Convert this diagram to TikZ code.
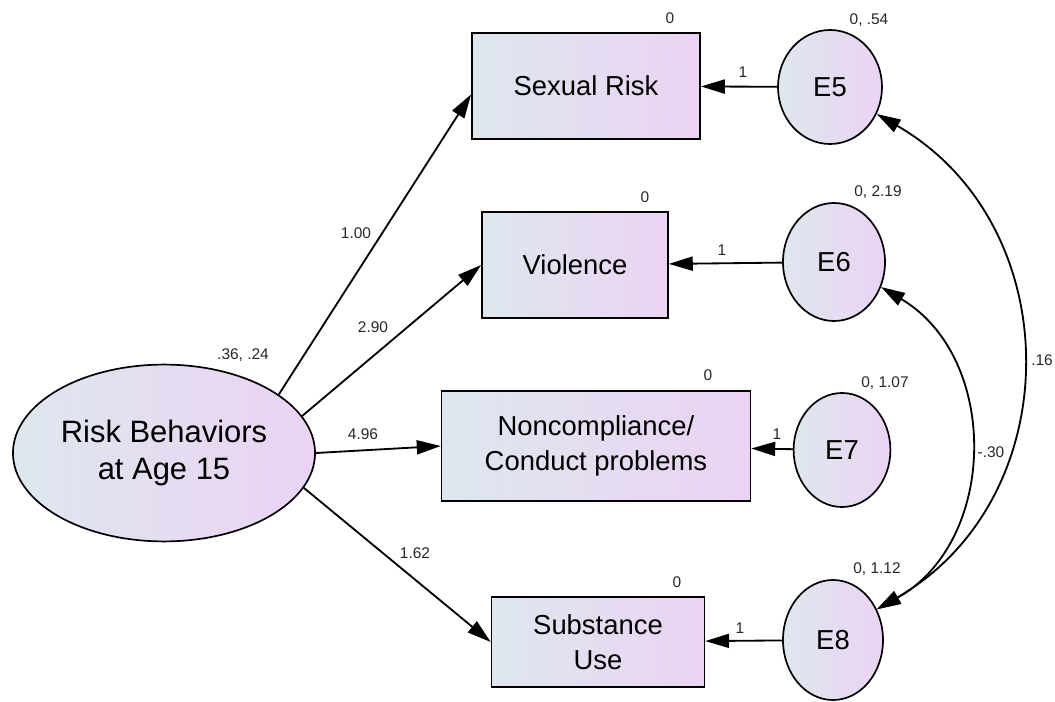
\documentclass[tikz,border=0pt]{standalone}
\usepackage{fontspec}
\setmainfont{Liberation Sans}
\usetikzlibrary{arrows.meta,shapes.geometric}

\definecolor{boxleft}{RGB}{222,231,238}
\definecolor{boxright}{RGB}{235,211,243}

\begin{document}
\begin{tikzpicture}[x=0.025cm, y=-0.025cm,
		obs/.style={draw, line width=1.2pt, left color=boxleft, right color=boxright, align=center, inner sep=0, font=\fontsize{19.5}{25}\selectfont},
		lat/.style={obs, ellipse},
		est/.style={font=\fontsize{11}{13}\selectfont, text=black!85},
		path/.style={-{Triangle[length=17pt,width=10pt]}, line width=1.3pt},
		cov/.style={{Triangle[length=17pt,width=10pt]}-{Triangle[length=17pt,width=10pt]}, line width=1.3pt}]
		\useasboundingbox (0,0) rectangle (1055,702);
		
		% latent factor
		\node[lat, minimum width=7.55cm, minimum height=4.42cm, font=\fontsize{22}{27}\selectfont] (risk) at (164,453) {Risk Behaviors\\at Age 15};
		
		% indicators
		\node[obs, minimum width=5.7cm, minimum height=2.65cm] (sex) at (586,86) {Sexual Risk};
		\node[obs, minimum width=4.65cm, minimum height=2.65cm] (viol) at (575,265) {Violence};
		\node[obs, minimum width=7.72cm, minimum height=2.75cm] (nonc) at (596,446) {Noncompliance/\\Conduct problems};
		\node[obs, minimum width=5.32cm, minimum height=2.25cm] (subst) at (598,642) {Substance\\Use};
		
		% errors
		\node[lat, minimum width=2.6cm, minimum height=2.85cm] (e5) at (830,87) {E5};
		\node[lat, minimum width=2.55cm, minimum height=2.95cm] (e6) at (834,262) {E6};
		\node[lat, minimum width=2.42cm, minimum height=2.85cm] (e7) at (842,450) {E7};
		\node[lat, minimum width=2.5cm, minimum height=3cm] (e8) at (833,640) {E8};
		
		% loadings
		\draw[path] (risk.27) -- ([yshift=-6pt]sex.west);
		\draw[path] (risk.15) -- (viol.west);
		\draw[path] (risk.east) -- (nonc.west);
		\draw[path] (risk.-14) -- (subst.west);
		
		\draw[path] (e5) -- (sex);
		\draw[path] (e6) -- (viol);
		\draw[path] (e7) -- (nonc);
		\draw[path] (e8) -- (subst);
		
		% covariances
		\draw[cov] (e5.-30) to[bend left=60, looseness=1.15] (e8.35);
		\draw[cov] (e6.-28) to[bend left=60, looseness=1.1] (e8.35);
		
		% estimates
		\node[est] (v0) at (243,355) {.36, .24};
		\node[est] (l1) at (356,233) {1.00};
		\node[est] (l2) at (373,327) {2.90};
		\node[est] (l3) at (363,434) {4.96};
		\node[est] (l4) at (415,553) {1.62};
		
		\node[est] (m1) at (670,18) {0};
		\node[est] (m2) at (645,197) {0};
		\node[est] (m3) at (708,375) {0};
		\node[est] (m4) at (677,582) {0};
		
		\node[est] (v5) at (869,20) {0, .54};
		\node[est] (v6) at (878,192) {0, 2.19};
		\node[est] (v7) at (885,383) {0, 1.07};
		\node[est] (v8) at (877,569) {0, 1.12};
		
		\node[est] (f5) at (743,72) {1};
		\node[est] (f6) at (722,250) {1};
		\node[est] (f7) at (777,434) {1};
		\node[est] (f8) at (740,628) {1};
		
		\node[est] (c58) at (1042,360) {.16};
		\node[est] (c68) at (991,452) {-.30};
	\end{tikzpicture}
\end{document}
